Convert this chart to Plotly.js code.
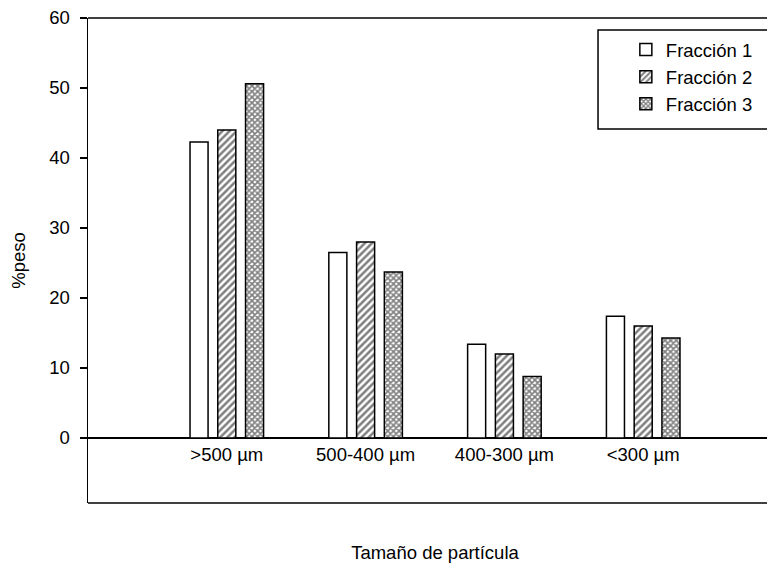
<!DOCTYPE html>
<html>
<head>
<meta charset="utf-8">
<script src="https://cdn.plot.ly/plotly-3.0.1.min.js"></script>
<style>html,body{margin:0;padding:0;overflow:hidden;background:#fff;}</style>
</head>
<body>
<div id="chart" style="width:782px;height:568px;"></div>
<script>
const categories = ['>500 µm', '500-400 µm', '400-300 µm', '<300 µm'];
const seriesNames = ['Fracción 1', 'Fracción 2', 'Fracción 3'];
const fraccion1 = [42.3, 26.5, 13.4, 17.4];
const fraccion2 = [44.0, 28.0, 12.0, 16.0];
const fraccion3 = [50.6, 23.7, 8.8, 14.3];
const yTicks = [0, 10, 20, 30, 40, 50, 60];

const FONT = 'Liberation Sans, Arial, sans-serif';
const patterns = ['', '/', 'x'];
const patSize = [6, 5, 4];
const patSolid = [0.3, 0.5, 0.65];
const values = [fraccion1, fraccion2, fraccion3];

const data = values.map((v, i) => ({
  type: 'bar',
  name: seriesNames[i],
  x: categories,
  y: v,
  marker: {
    color: '#ffffff',
    line: {color: '#000000', width: 1.5},
    pattern: {shape: patterns[i], fgcolor: '#000000', bgcolor: '#ffffff',
              size: patSize[i], solidity: patSolid[i], fillmode: 'overlay'}
  }
}));

const yMin = -9.286, yMax = 60;
const zeroPos = (0 - yMin) / (yMax - yMin);

const layout = {
  width: 782, height: 568,
  margin: {l: 88, r: 0, t: 18, b: 65},
  paper_bgcolor: '#ffffff', plot_bgcolor: '#ffffff',
  font: {family: FONT, size: 18.5, color: '#000000'},
  barmode: 'group', bargap: 0.4, bargroupgap: 0.35,
  showlegend: true,
  legend: {
    x: 0.775, y: 0.973, xanchor: 'left', yanchor: 'top',
    bgcolor: 'rgba(0,0,0,0)', borderwidth: 0,
    font: {family: FONT, size: 18.5, color: '#000000'},
    tracegroupgap: 0
  },
  xaxis: {
    type: 'category', range: [-1, 4],
    anchor: 'free', position: zeroPos,
    showline: false, showgrid: false, zeroline: false,
    ticks: '', ticklabelstandoff: 4,
    tickfont: {family: FONT, size: 18.5, color: '#000000'},
    title: {text: 'Tamaño de partícula', font: {family: FONT, size: 18.5, color: '#000000'}, standoff: 81},
    automargin: false, fixedrange: true
  },
  yaxis: {
    range: [yMin, yMax],
    tickmode: 'array', tickvals: yTicks,
    ticks: 'outside', ticklen: 7, tickwidth: 1.5, tickcolor: '#000000',
    ticklabelstandoff: 6,
    showline: true, mirror: true, linecolor: '#000000', linewidth: 1.5,
    showgrid: false,
    zeroline: true, zerolinecolor: '#000000', zerolinewidth: 1.5,
    tickfont: {family: FONT, size: 18.5, color: '#000000'},
    title: {text: '%peso', font: {family: FONT, size: 18.5, color: '#000000'}, standoff: 18},
    automargin: false
  },
  shapes: [
    {type: 'line', xref: 'paper', yref: 'paper', x0: 0, x1: 1, y0: 0, y1: 0,
     line: {color: '#000000', width: 1.5}},
    {type: 'line', xref: 'paper', yref: 'paper', x0: 0, x1: 1, y0: 1, y1: 1,
     line: {color: '#000000', width: 1.5}},
    {type: 'rect', xref: 'paper', yref: 'paper',
     x0: 0.7349, x1: 1.05, y0: 0.7711, y1: 0.9753,
     line: {color: '#000000', width: 1.5}, fillcolor: 'rgba(0,0,0,0)'}
  ]
};

Plotly.newPlot('chart', data, layout, {displayModeBar: false, staticPlot: true});
</script>
</body>
</html>
